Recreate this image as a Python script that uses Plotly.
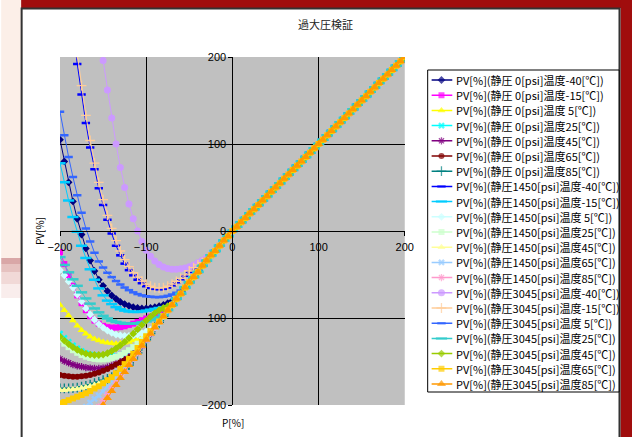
import plotly.graph_objects as go

# ---------------- data ----------------
P_VALUES = [-200, -195, -190, -185, -180, -175, -170, -165, -160, -155,
            -150, -145, -140, -135, -130, -125, -120, -115, -110, -105,
            -100, -95, -90, -85, -80, -75, -70, -65, -60, -55,
            -50, -45, -40, -35, -30, -25, -20, -15, -10, -5,
            0, 5, 10, 15, 20, 25, 30, 35, 40, 45,
            50, 55, 60, 65, 70, 75, 80, 85, 90, 95,
            100, 105, 110, 115, 120, 125, 130, 135, 140, 145,
            150, 155, 160, 165, 170, 175, 180, 185, 190, 195, 200]

# PV for P = 0 ... 200 (all series coincide there)
PV_NONNEG = [0, 5, 10, 15, 20, 25, 30, 35, 40, 45,
             50, 55, 60, 65, 70, 75, 80, 85, 90, 95,
             100, 105, 110, 115, 120, 125, 130, 135, 140, 145,
             150, 155, 160, 165, 170, 175, 180, 185, 190, 195, 200]

# PV for P = -200 ... -5 per series
PV_0_M40 = [105, 80, 56, 34, 14, -4, -20, -34, -46, -56,
            -63, -69, -74, -78, -81.5, -84, -86, -87.5, -88.5, -89,
            -89, -88.5, -87.5, -86.5, -85, -83, -80.5, -78, -72, -65,
            -59, -53, -47, -40, -34, -28, -23, -17, -11, -6]
PV_0_M15 = [-24, -38, -51, -63, -74, -83, -91, -98, -103, -106.5,
            -109, -110.5, -111, -111, -110.5, -109.5, -108, -106.5, -104.5, -102.5,
            -100.5, -98.5, -97, -95.5, -94, -91, -85, -78, -72, -65,
            -59, -53, -47, -40, -34, -28, -23, -17, -11, -6]
PV_0_5 = [-85, -91, -97, -103, -109, -114, -118, -121.5, -124, -126,
          -127.5, -128.5, -129, -129.5, -129, -128.5, -127.5, -126, -124.5, -122.5,
          -120, -117.5, -111, -105, -98, -91, -85, -78, -72, -65,
          -59, -53, -47, -40, -34, -28, -23, -17, -11, -6]
PV_0_25 = [-118, -123, -127.5, -131.5, -135, -138, -140.5, -142, -143, -143.5,
           -144, -144, -144, -143.5, -142.5, -141, -139, -136.5, -133, -129,
           -125, -118, -111, -105, -98, -91, -85, -78, -72, -65,
           -59, -53, -47, -40, -34, -28, -23, -17, -11, -6]
PV_0_45 = [-147, -149.5, -151.5, -153.5, -155, -156, -157, -157.5, -158, -158,
           -157.5, -156.5, -155, -153, -150.5, -147.5, -144.5, -141, -137.5, -132,
           -125, -118, -111, -105, -98, -91, -85, -78, -72, -65,
           -59, -53, -47, -40, -34, -28, -23, -17, -11, -6]
PV_0_65 = [-165.5, -166.5, -167, -167.5, -167.5, -167, -166.5, -165.5, -164, -162.5,
           -160.5, -158.5, -156, -153.5, -151, -148, -145, -142, -138.5, -132,
           -125, -118, -111, -105, -98, -91, -85, -78, -72, -65,
           -59, -53, -47, -40, -34, -28, -23, -17, -11, -6]
PV_0_85 = [-181, -181, -181, -180.5, -180, -179, -178, -176.5, -175, -173.5,
           -171.5, -170, -168, -165.5, -162.5, -158.5, -154, -147, -140, -132,
           -125, -118, -111, -105, -98, -91, -85, -78, -72, -65,
           -59, -53, -47, -40, -34, -28, -23, -17, -11, -6]
PV_1450_M40 = [370, 320, 274, 232, 192, 157, 124, 96, 71, 49,
               30, 13, -3, -17, -28, -37.5, -45, -51, -56, -60,
               -63.5, -65.5, -66.5, -67, -66.5, -65, -62.5, -59, -55.5, -51.5,
               -47, -43, -40, -37.5, -34, -28, -23, -17, -11, -6]
PV_1450_M15 = [78, 56, 35, 16, -1, -17, -31, -44, -56, -66,
               -74, -80, -84, -87.5, -90, -91.5, -92.5, -93, -93, -92.5,
               -91.5, -90.5, -89.5, -88.5, -87.5, -86.5, -85, -78, -72, -65,
               -59, -53, -47, -40, -34, -28, -23, -17, -11, -6]
PV_1450_5 = [-45, -51, -58, -65, -73, -81, -89, -96, -102, -107,
             -111, -114.5, -117, -119, -120, -120.5, -120.5, -120, -119, -117.5,
             -115.5, -113.5, -111, -105, -98, -91, -85, -78, -72, -65,
             -59, -53, -47, -40, -34, -28, -23, -17, -11, -6]
PV_1450_25 = [-125, -129.5, -133.5, -137, -140, -142.5, -144.5, -146, -147, -147.5,
              -147.5, -147, -146, -144.5, -142.5, -140, -137, -133.5, -129.5, -125,
              -120.5, -116, -111, -105, -98, -91, -85, -78, -72, -65,
              -59, -53, -47, -40, -34, -28, -23, -17, -11, -6]
PV_1450_45 = [-183, -183, -182.5, -182, -181.5, -180.5, -179.5, -178.5, -177, -175.5,
              -174, -172, -170, -168, -165.5, -162, -154, -147, -140, -132,
              -125, -118, -111, -105, -98, -91, -85, -78, -72, -65,
              -59, -53, -47, -40, -34, -28, -23, -17, -11, -6]
PV_1450_65 = [-224, -220, -217, -213, -210, -206, -202, -197, -193, -189,
              -184, -179, -173, -168.5, -162.5, -157, -151, -145, -139, -131.5,
              -125, -118, -111, -105, -98, -91, -85, -78, -72, -65,
              -59, -53, -47, -40, -34, -28, -23, -17, -11, -6]
PV_1450_85 = [-262, -255, -249, -241.5, -235, -229, -222, -214.5, -208, -202,
              -195, -188, -181, -174.5, -167, -161, -153, -146.5, -140, -132,
              -125, -118, -111, -105, -98, -91, -85, -78, -72, -65,
              -59, -53, -47, -40, -34, -28, -23, -17, -11, -6]
PV_3045_M40 = [640, 585, 530, 480, 432, 385, 340, 300, 262, 228,
               196, 162, 130, 100, 73, 50, 31, 14, 0, -12,
               -22, -29, -34.5, -38.5, -41.5, -43, -44, -44, -43.5, -42.5,
               -41, -39, -36.5, -33.5, -30.5, -27, -23, -17, -11, -6]
PV_3045_M15 = [385, 335, 288, 245, 204, 167, 133, 104, 78, 56,
               36, 18, 3, -11, -23, -33, -41, -48, -53, -57.5,
               -61, -63.5, -65, -65.5, -65, -63.5, -61, -58, -54.5, -50.5,
               -46, -42, -39, -36.5, -33.5, -28, -23, -17, -11, -6]
PV_3045_5 = [137, 110, 85, 62, 41, 21, 3, -12, -25, -35,
             -42, -48, -53, -57.5, -61.5, -65, -68, -70.5, -72.5, -74,
             -75, -75.5, -76, -76, -75.5, -74.5, -73, -71, -68.5, -65,
             -59, -53, -47, -40, -34, -28, -23, -17, -11, -6]
PV_3045_25 = [-30, -39, -47.5, -55.5, -63, -70.5, -77.5, -83.5, -89, -93.5,
              -97.5, -100.5, -103, -104.5, -105.5, -106.5, -106.5, -106.5, -106, -105,
              -104, -102.5, -101, -99, -96.5, -91, -85, -78, -72, -65,
              -59, -53, -47, -40, -34, -28, -23, -17, -11, -6]
PV_3045_45 = [-121.5, -126, -130, -133.5, -136.5, -139, -141, -142, -142.5, -142.5,
              -142, -140.5, -138, -135, -131.5, -127.5, -123, -118, -113, -108,
              -103, -98.5, -94.5, -91, -88.5, -86.5, -85, -78, -72, -65,
              -59, -53, -47, -40, -34, -28, -23, -17, -11, -6]
PV_3045_65 = [-198, -196.5, -194.5, -192.5, -190.5, -188.5, -186.5, -184, -181, -178.5,
              -175, -171.5, -168, -163.5, -158.5, -153, -147, -141, -134.5, -127.5,
              -121, -115, -109, -104, -98, -91, -85, -78, -72, -65,
              -59, -53, -47, -40, -34, -28, -23, -17, -11, -6]
PV_3045_85 = [-282, -273, -265, -256, -248, -240, -232, -223, -215, -208,
              -200, -192, -184, -177, -169, -162, -154, -147, -140, -132,
              -125, -118, -111, -105, -98, -91, -85, -78, -72, -65,
              -59, -53, -47, -40, -34, -28, -23, -17, -11, -6]

SERIES_NEG = [PV_0_M40, PV_0_M15, PV_0_5, PV_0_25, PV_0_45, PV_0_65, PV_0_85,
              PV_1450_M40, PV_1450_M15, PV_1450_5, PV_1450_25, PV_1450_45, PV_1450_65, PV_1450_85,
              PV_3045_M40, PV_3045_M15, PV_3045_5, PV_3045_25, PV_3045_45, PV_3045_65, PV_3045_85]

SERIES_NAMES = [
    "PV[%](静圧 0[psi]温度-40[℃])",
    "PV[%](静圧 0[psi]温度-15[℃])",
    "PV[%](静圧 0[psi]温度 5[℃])",
    "PV[%](静圧 0[psi]温度25[℃])",
    "PV[%](静圧 0[psi]温度45[℃])",
    "PV[%](静圧 0[psi]温度65[℃])",
    "PV[%](静圧 0[psi]温度85[℃])",
    "PV[%](静圧1450[psi]温度-40[℃])",
    "PV[%](静圧1450[psi]温度-15[℃])",
    "PV[%](静圧1450[psi]温度 5[℃])",
    "PV[%](静圧1450[psi]温度25[℃])",
    "PV[%](静圧1450[psi]温度45[℃])",
    "PV[%](静圧1450[psi]温度65[℃])",
    "PV[%](静圧1450[psi]温度85[℃])",
    "PV[%](静圧3045[psi]温度-40[℃])",
    "PV[%](静圧3045[psi]温度-15[℃])",
    "PV[%](静圧3045[psi]温度 5[℃])",
    "PV[%](静圧3045[psi]温度25[℃])",
    "PV[%](静圧3045[psi]温度45[℃])",
    "PV[%](静圧3045[psi]温度65[℃])",
    "PV[%](静圧3045[psi]温度85[℃])",
]

# ---------------- styles ----------------
COLORS = ["#000080", "#FF00FF", "#FFFF00", "#00FFFF", "#800080", "#800000", "#008080",
          "#0000FF", "#00CCFF", "#CCFFFF", "#CCFFCC", "#FFFF99", "#99CCFF", "#FF99CC",
          "#CC99FF", "#FFCC99", "#3366FF", "#33CCCC", "#99CC00", "#FFCC00", "#FF9900"]
SYMBOLS = ["diamond", "square", "triangle-up", "x", "asterisk-open", "circle", "cross-thin-open",
           "line-ew-open", "line-ew-open", "diamond", "square", "triangle-up", "x", "asterisk-open",
           "circle", "cross-thin-open", "line-ew-open", "line-ew-open", "diamond", "square", "triangle-up"]
SIZES = [6, 6, 7, 6, 6, 6, 7,
         6, 8, 6, 6, 7, 6, 6,
         7, 7, 6, 8, 6, 6, 8]


def marker_line_width(sym):
    if sym.startswith("line-ew"):
        return 2.5
    if sym.endswith("-open"):
        return 1.3
    return 0


# layout geometry (target picture is 632 px wide; the page is laid out 640 px wide)
W, H = 640, 437
K = W / 632.0
ML, MT, MB = 59 * K, 57, 32
MR = W - 620 * K
PW, PH = W - ML - MR, H - MT - MB


def fx(px):
    return (px * K - ML) / PW


def fy(py):
    return (H - MB - py) / PH


fig = go.Figure()

for name, neg, color, sym, size in zip(SERIES_NAMES, SERIES_NEG, COLORS, SYMBOLS, SIZES):
    fig.add_trace(go.Scatter(
        x=P_VALUES, y=neg + PV_NONNEG, mode="lines+markers", name=name,
        line=dict(color=color, width=1),
        marker=dict(symbol=sym, size=size, color=color,
                    line=dict(color=color, width=marker_line_width(sym))),
        showlegend=False, xaxis="x", yaxis="y"))

# ---------------- hand-built legend ----------------
ROW0, ROWSTEP = 10, 15.2
rows = [ROW0 + ROWSTEP * i for i in range(len(SERIES_NAMES))]
fig.add_trace(go.Scatter(
    x=[14] * len(rows), y=rows, mode="markers", xaxis="x2", yaxis="y2",
    marker=dict(symbol=SYMBOLS, size=SIZES, color=COLORS,
                line=dict(color=COLORS, width=[marker_line_width(s) for s in SYMBOLS])),
    showlegend=False, hoverinfo="skip"))

shapes = []
# slide background pieces
shapes.append(dict(type="rect", xref="paper", yref="paper", x0=fx(0), x1=fx(20), y0=fy(258), y1=fy(0),
                   fillcolor="#FCEFE8", line=dict(width=0), layer="below"))
for (a, b, c) in [(258, 264, "#D9A7A7"), (264, 272, "#E6C2C0"), (272, 284, "#F1D9D7"), (284, 298, "#F9EDEC")]:
    shapes.append(dict(type="rect", xref="paper", yref="paper", x0=fx(0), x1=fx(20), y0=fy(b), y1=fy(a),
                       fillcolor=c, line=dict(width=0), layer="below"))
shapes.append(dict(type="rect", xref="paper", yref="paper", x0=fx(20), x1=fx(640), y0=fy(8), y1=fy(0),
                   fillcolor="#A00D0D", line=dict(width=0), layer="below"))
shapes.append(dict(type="rect", xref="paper", yref="paper", x0=fx(621.5), x1=fx(640), y0=fy(437), y1=fy(0),
                   fillcolor="#A00D0D", line=dict(width=0), layer="below"))
shapes.append(dict(type="rect", xref="paper", yref="paper", x0=fx(20.5), x1=fx(620.5), y0=fy(445), y1=fy(8.5),
                   fillcolor="rgba(0,0,0,0)", line=dict(color="#333333", width=2), layer="below"))
# plot area
shapes.append(dict(type="rect", xref="x domain", yref="y domain", x0=0, x1=1, y0=0, y1=1,
                   fillcolor="#C0C0C0", line=dict(width=0), layer="below"))
# legend box
shapes.append(dict(type="rect", xref="paper", yref="paper", x0=fx(428), x1=fx(620), y0=fy(392), y1=fy(70),
                   fillcolor="white", line=dict(color="black", width=1), layer="below"))
for r, c in zip(rows, COLORS):
    shapes.append(dict(type="line", xref="x2", yref="y2", x0=4, x1=25, y0=r, y1=r,
                       line=dict(color=c, width=1.5), layer="between"))

annotations = []
for r, name in zip(rows, SERIES_NAMES):
    annotations.append(dict(xref="x2", yref="y2", x=27, y=r, text=name, showarrow=False,
                            xanchor="left", yanchor="middle",
                            font=dict(family="Noto Sans CJK JP", size=11, color="black")))
annotations.append(dict(xref="paper", yref="paper", x=fx(325), y=fy(24), text="過大圧検証", showarrow=False,
                        xanchor="center", yanchor="middle",
                        font=dict(family="Noto Sans CJK JP", size=11, color="#222222")))
annotations.append(dict(xref="paper", yref="paper", x=fx(38), y=fy(231), text="PV[%]", showarrow=False,
                        textangle=-90, xanchor="center", yanchor="middle",
                        font=dict(family="Noto Sans CJK JP", size=10, color="black")))
annotations.append(dict(xref="paper", yref="paper", x=fx(233), y=fy(422), text="P[%]", showarrow=False,
                        xanchor="center", yanchor="middle",
                        font=dict(family="Noto Sans CJK JP", size=10, color="black")))

tickfont = dict(family="Liberation Sans, Arial", size=11, color="black")
fig.update_layout(
    width=W, height=H, autosize=False,
    margin=dict(l=ML, r=MR, t=MT, b=MB, pad=0),
    paper_bgcolor="white", plot_bgcolor="rgba(0,0,0,0)",
    showlegend=False,
    xaxis=dict(domain=[0, fx(405)], range=[-200, 200], dtick=100, tick0=0,
               anchor="free", position=fy(231),
               showgrid=True, gridcolor="black", gridwidth=1, zeroline=False,
               showline=True, linecolor="black", linewidth=1,
               ticks="outside", ticklen=4, tickcolor="black", tickwidth=1,
               tickfont=tickfont, ticklabelstandoff=2),
    yaxis=dict(domain=[0, 1], range=[-200, 200], dtick=100, tick0=0,
               anchor="free", position=fx(232),
               showgrid=True, gridcolor="black", gridwidth=1, zeroline=False,
               showline=True, linecolor="black", linewidth=1,
               ticks="outside", ticklen=4, tickcolor="black", tickwidth=1,
               tickfont=tickfont),
    xaxis2=dict(domain=[fx(428), fx(620)], range=[0, 192 * K], anchor="y2", visible=False, fixedrange=True),
    yaxis2=dict(domain=[fy(392), fy(70)], range=[322, 0], anchor="x2", visible=False, fixedrange=True),
    shapes=shapes,
    annotations=annotations,
)

POST = ("document.documentElement.style.overflow='hidden';"
        "document.body.style.margin='0px';document.body.style.overflow='hidden';")

fig.write_html("out.html",
               config={"responsive": False, "displayModeBar": False},
               post_script=POST)
